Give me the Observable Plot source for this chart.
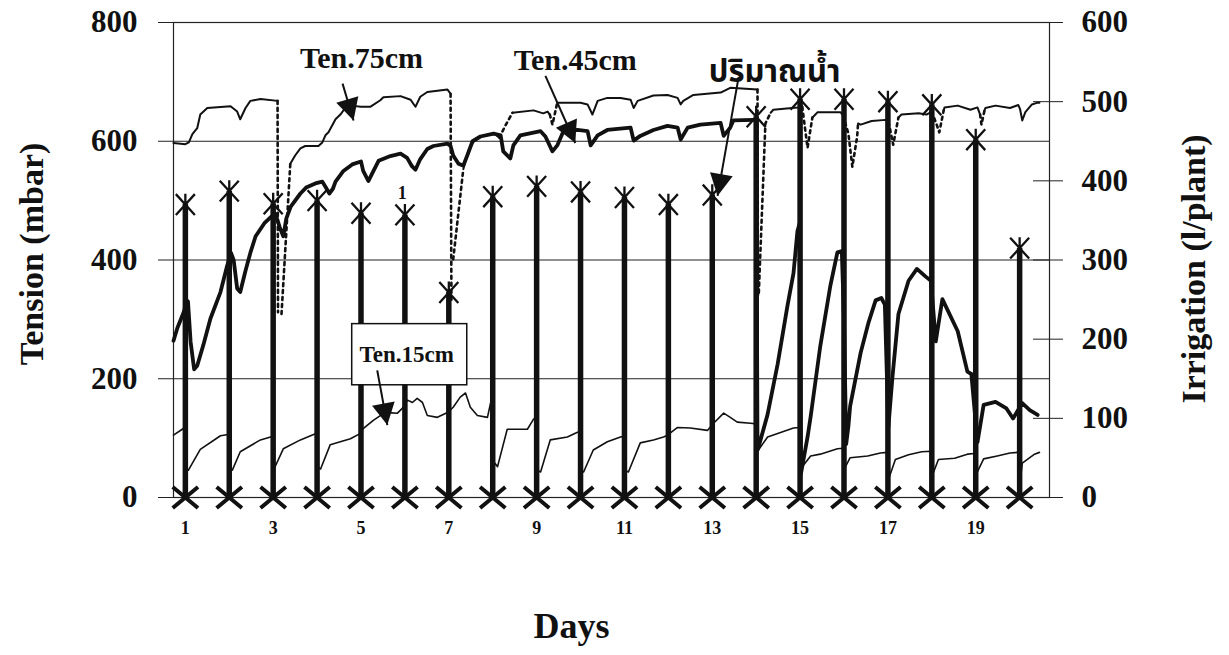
<!DOCTYPE html>
<html>
<head>
<meta charset="utf-8">
<script src="https://cdn.jsdelivr.net/npm/d3@7"></script>
<script src="https://cdn.jsdelivr.net/npm/@observablehq/plot@0.6"></script>
<style>
  html, body { margin: 0; padding: 0; background: #fff; }
</style>
</head>
<body>
<div id="chart"></div>
<script>
// Irrigation events (one per day) in l/plant, read on the right axis
const irrigationDays = d3.range(1, 21);
const irrigation = [370, 387, 371, 375, 359, 357, 259, 380, 393, 386, 379, 370, 382, 481, 503, 503, 500, 496, 452, 315];

// Soil water tension (mbar) at 15 cm depth: [day, tension]
const ten15 = [
  [0.73,105],[0.93,115],[0.99,118],[1.03,48],[1.07,46],[1.34,81],[1.8,104],[1.98,106],
  [2.03,46],[2.07,46],[2.25,77],[2.71,97],[2.94,102],[2.99,103],[3.02,48],[3.23,82],
  [3.62,97],[3.92,106],[3.98,108],[4.03,50],[4.08,48],[4.3,89],[4.76,99],[4.99,108],
  [5.05,116],[5.28,130],[5.44,138],[5.62,143],[5.83,142],[5.94,150],[6.06,164],[6.17,160],
  [6.28,167],[6.4,160],[6.51,138],[6.74,135],[6.97,143],[7.1,152],[7.26,169],[7.38,176],
  [7.49,152],[7.65,138],[7.88,135],[7.95,159],[8.02,60],[8.11,52],[8.33,115],[8.79,115],
  [8.93,132],[8.98,133],[9.03,45],[9.09,43],[9.31,97],[9.7,102],[9.93,110],[9.98,110],
  [10.03,45],[10.07,43],[10.29,80],[10.61,94],[10.91,102],[10.98,103],[11.03,45],[11.09,43],
  [11.36,92],[11.66,97],[11.89,102],[11.98,105],[12.21,118],[12.5,117],[12.89,113],[13.03,125],
  [13.26,142],[13.41,135],[13.57,127],[13.87,125],[14.0,124],[14.05,80],[14.26,102],[14.85,117],
  [14.98,118],[15.01,48],[15.24,70],[15.46,73],[15.85,82],[15.98,83],[16.02,50],[16.14,67],
  [16.54,70],[16.83,75],[16.98,76],[17.01,30],[17.17,64],[17.47,72],[17.77,77],[17.98,78],
  [18.0,35],[18.15,64],[18.52,66],[18.81,73],[18.97,74],[18.99,36],[19.18,65],[19.49,70],
  [19.78,75],[19.98,76],[20.02,32],[20.06,58],[20.34,73],[20.45,76]
];

// Tension at 45 cm depth
const ten45 = [
  [0.73,264],[0.82,286],[0.93,306],[0.98,316],[1.02,333],[1.06,330],[1.12,262],[1.2,216],
  [1.27,222],[1.41,257],[1.57,301],[1.8,346],[1.95,390],[2.04,412],[2.1,400],[2.18,352],
  [2.25,346],[2.37,382],[2.48,412],[2.6,440],[2.8,462],[3.0,476],[3.05,478],[3.15,455],
  [3.23,440],[3.3,470],[3.4,490],[3.62,512],[3.75,522],[3.96,529],[4.12,532],[4.2,522],
  [4.28,512],[4.36,520],[4.42,532],[4.6,550],[4.8,561],[5.0,566],[5.05,550],[5.17,533],
  [5.25,545],[5.4,567],[5.67,575],[5.9,579],[6.05,572],[6.16,558],[6.24,552],[6.35,570],
  [6.51,587],[6.65,592],[6.97,596],[7.04,592],[7.1,576],[7.22,562],[7.33,559],[7.42,576],
  [7.54,600],[7.72,608],[8.02,613],[8.18,610],[8.24,583],[8.4,571],[8.47,593],[8.63,610],
  [9.09,617],[9.2,608],[9.36,583],[9.47,593],[9.61,617],[9.93,619],[10.16,617],[10.23,593],
  [10.39,610],[10.61,619],[11.14,623],[11.21,601],[11.36,609],[11.66,619],[11.98,626],[12.21,623],
  [12.28,603],[12.44,623],[12.73,628],[13.19,631],[13.26,609],[13.41,623],[13.48,635],[13.94,636],
  [14.0,636],[14.03,80],[14.05,84],[14.26,140],[14.49,225],[14.71,322],[14.85,378],[14.94,449],
  [14.99,462],[15.02,40],[15.17,102],[15.24,136],[15.46,255],[15.69,357],[15.85,413],[15.95,415],
  [16.0,300],[16.05,90],[16.1,120],[16.14,154],[16.38,244],[16.56,295],[16.72,332],[16.85,336],
  [16.93,325],[17.01,118],[17.1,200],[17.24,309],[17.47,365],[17.66,385],[17.86,372],[17.98,365],
  [18.09,263],[18.24,334],[18.59,280],[18.81,212],[18.9,208],[19.04,93],[19.18,156],[19.45,161],
  [19.7,150],[19.85,133],[20.06,159],[20.23,147],[20.41,139]
];

// Tension at 75 cm depth: logged stretches (null separates them)
const ten75 = [
  [0.73,597],[1.0,595],[1.08,598],[1.16,612],[1.27,622],[1.34,645],[1.5,656],[2.03,659],
  [2.18,650],[2.25,637],[2.37,656],[2.48,668],[2.71,671],[3.1,668], null,
  [3.39,562],[3.5,576],[3.62,588],[3.73,592],[4.03,592],[4.12,598],[4.19,610],[4.26,615],
  [4.42,637],[4.53,645],[4.64,656],[4.76,660],[5.0,658],[5.21,658],[5.44,669],[5.51,674],
  [5.9,676],[6.13,670],[6.24,658],[6.35,675],[6.51,683],[6.97,687],[7.04,680], null,
  [7.33,553],[7.45,585],[7.6,604],[7.8,610],[8.05,612],[8.15,606], null,
  [8.45,648],[8.93,652],[9.15,647],[9.25,650],[9.3,645], null,
  [9.47,665],[10.0,665],[10.16,662],[10.27,645],[10.39,668],[10.61,673],[10.91,673],[11.14,670],
  [11.21,656],[11.3,668],[11.66,677],[11.98,678],[12.21,673],[12.28,662],[12.34,668],[12.57,678],
  [13.19,682],[13.41,690],[14.03,687], null,
  [14.33,648],[14.39,653],[14.94,657],[15.05,658], null,
  [15.28,640],[15.31,642],[15.4,649],[15.92,649],[15.98,643], null,
  [16.32,630],[16.38,628],[16.63,634],[16.95,636],[17.01,632], null,
  [17.24,640],[17.31,645],[17.7,647],[17.88,645],[18.0,650], null,
  [18.27,652],[18.29,657],[18.59,660],[18.88,653],[19.04,657],[19.1,645], null,
  [19.2,652],[19.22,656],[19.45,660],[19.78,656],[19.97,661],[20.01,654],[20.06,635],[20.13,649],
  [20.28,662],[20.41,665],[20.45,665]
];

// Sparse 75 cm readings around irrigations, drawn dotted
const ten75Gaps = [
  [[3.1,668],[3.11,312]],
  [[3.19,309],[3.39,562]],
  [[7.04,680],[7.06,333]],
  [[7.1,401],[7.33,553]],
  [[8.15,606],[8.3,628],[8.45,648]],
  [[9.3,645],[9.36,628],[9.47,665]],
  [[14.03,687],[14.04,340]],
  [[14.06,345],[14.21,630],[14.33,648]],
  [[15.05,658],[15.08,640],[15.17,589],[15.28,640]],
  [[15.98,643],[16.1,613],[16.19,557],[16.3,608],[16.32,630]],
  [[17.01,632],[17.05,620],[17.12,594],[17.24,640]],
  [[18.0,650],[18.11,628],[18.17,615],[18.27,652]],
  [[19.1,645],[19.13,628],[19.2,652]]
];

// Axis ticks
const dayTicks = [1, 3, 5, 7, 9, 11, 13, 15, 17, 19];
const tensionTicks = [0, 200, 400, 600, 800];
const irrigationTicks = [0, 100, 200, 300, 400, 500, 600];

// Labels and pointers
const seriesLabels = [
  {label: "Ten.75cm", day: 5.01, t: 740, size: 30},
  {label: "Ten.45cm", day: 9.88, t: 736, size: 30},
  {label: "ปริมาณน้ำ", day: 14.42, t: 716, size: 31},
  {label: "Ten.15cm", day: 6.04, t: 240, size: 23},
  {label: "1", day: 5.94, t: 513, size: 18}
];
const labelBox = [{day1: 4.80, day2: 7.42, t1: 189, t2: 292}];
const pointers = [
  {day1: 4.58, t1: 697, day2: 4.83, t2: 635},
  {day1: 9.20, t1: 710, day2: 9.88, t2: 597},
  {day1: 13.60, t1: 708, day2: 13.12, t2: 508},
  {day1: 5.37, t1: 214, day2: 5.60, t2: 122}
];

// ---- layout ----
const W = 1229, H = 655;
const mL = 173, mR = 180, mT = 22, mB = 158;
const xDomain = [0.73, 20.68];
const yDomain = [0, 800];
const irrToTension = 800 / 600;   // right axis 0–600 spans the same height as 0–800
const plotW = W - mL - mR, plotH = H - mT - mB;
const pxPerDay = plotW / (xDomain[1] - xDomain[0]);
const pxPerMbar = plotH / (yDomain[1] - yDomain[0]);

const toRows = (arr) => arr.map(p => p ? {day: p[0], t: p[1]} : {day: NaN, t: NaN});
const rows15 = toRows(ten15);
const rows45 = toRows(ten45);
const rows75 = toRows(ten75);
const rows75gaps = ten75Gaps.flatMap((seg, i) => seg.map(p => ({day: p[0], t: p[1], seg: i})));
const stems = irrigationDays.map((d, i) => ({day: d, irr: irrigation[i], t: irrigation[i] * irrToTension}));

// pointer heads: screen angle of each pointer
const heads = pointers.map(p => {
  const dx = (p.day2 - p.day1) * pxPerDay;
  const dy = -(p.t2 - p.t1) * pxPerMbar;
  return {...p, angle: Math.atan2(dy, dx) * 180 / Math.PI + 90};
});

// X marker with an upward spoke (top of each irrigation bar)
const starX = {
  draw(ctx, size) {
    const r = Math.sqrt(size / Math.PI);
    ctx.moveTo(-r, -r * 1.1); ctx.lineTo(r, r * 1.1);
    ctx.moveTo(-r, r * 1.1); ctx.lineTo(r, -r * 1.1);
    ctx.moveTo(0, -r * 1.15); ctx.lineTo(0, r);
  }
};
// flat X for the foot of each bar
const footX = {
  draw(ctx, size) {
    const r = Math.sqrt(size / Math.PI);
    ctx.moveTo(-r * 1.15, -r * 0.95); ctx.lineTo(r * 1.15, r * 0.95);
    ctx.moveTo(-r * 1.15, r * 0.95); ctx.lineTo(r * 1.15, -r * 0.95);
  }
};
// filled arrowhead, tip at the origin, pointing up
const headSym = {
  draw(ctx, size) {
    const r = Math.sqrt(size / Math.PI);
    ctx.moveTo(0, 0); ctx.lineTo(-r, 1.9 * r); ctx.lineTo(r, 1.9 * r); ctx.closePath();
  }
};

const serif = '"Liberation Serif", "Times New Roman", "DejaVu Serif", serif';
const ink = "#111";

const chart = Plot.plot({
  width: W, height: H,
  marginLeft: mL, marginRight: mR, marginTop: mT, marginBottom: mB,
  x: {domain: xDomain},
  y: {domain: yDomain},
  style: {fontFamily: serif, background: "#fff", color: ink},
  marks: [
    // horizontal grid
    Plot.ruleY([200, 400, 600], {stroke: "#222", strokeWidth: 1}),
    Plot.frame({stroke: "#222", strokeWidth: 1.2}),

    // left axis (tension)
    Plot.axisY(tensionTicks, {tickSize: 15, tickPadding: 21, fontSize: 31, fontWeight: "bold", label: null, stroke: "#222"}),
    // right axis (irrigation)
    Plot.ruleY(irrigationTicks, {y: d => d * irrToTension, insetLeft: plotW - 16, insetRight: -14, stroke: "#222", strokeWidth: 1}),
    Plot.text(irrigationTicks, {y: d => d * irrToTension, text: d => String(d), frameAnchor: "right", textAnchor: "start", dx: 32, fontSize: 31, fontWeight: "bold", fill: ink}),
    // bottom axis (days)
    Plot.axisX(dayTicks, {tickSize: 0, tickPadding: 24, fontSize: 18, fontWeight: "bold", label: null}),

    // axis titles
    Plot.text(["Tension (mbar)"], {frameAnchor: "left", textAnchor: "middle", rotate: -90, dx: -141, dy: -6, fontSize: 34, fontWeight: "bold", fill: ink}),
    Plot.text(["Irrigation (l/plant)"], {frameAnchor: "right", textAnchor: "middle", rotate: -90, dx: 145, dy: 9, fontSize: 34, fontWeight: "bold", fill: ink}),
    Plot.text(["Days"], {frameAnchor: "bottom", dx: -40, dy: 140, fontSize: 36, fontWeight: "bold", fill: ink}),

    // tension series
    Plot.line(rows15, {x: "day", y: "t", stroke: ink, strokeWidth: 1.6}),
    Plot.line(rows75, {x: "day", y: "t", stroke: ink, strokeWidth: 2}),
    Plot.line(rows75gaps, {x: "day", y: "t", z: "seg", stroke: ink, strokeWidth: 2.6, strokeDasharray: "3,4"}),
    Plot.line(rows45, {x: "day", y: "t", stroke: ink, strokeWidth: 3.8}),

    // irrigation bars
    Plot.ruleX(stems, {x: "day", y1: 0, y2: "t", stroke: ink, strokeWidth: 5.5}),
    Plot.dot(stems, {x: "day", y: "t", symbol: starX, r: 9.5, stroke: ink, strokeWidth: 2.3, fill: "none"}),
    Plot.dot(stems, {x: "day", y: () => 0, symbol: footX, r: 11, stroke: ink, strokeWidth: 4, fill: "none"}),

    // label box for the 15 cm series
    Plot.rect(labelBox, {x1: "day1", x2: "day2", y1: "t1", y2: "t2", fill: "#fff", stroke: ink, strokeWidth: 1.5}),

    // pointers
    Plot.link(pointers, {x1: "day1", y1: "t1", x2: "day2", y2: "t2", stroke: ink, strokeWidth: 2}),
    Plot.dot(heads, {x: "day2", y: "t2", symbol: headSym, r: 11.5, rotate: "angle", fill: ink, stroke: "none"}),

    // series labels
    Plot.text(seriesLabels, {x: "day", y: "t", text: "label", fontSize: "size", fontWeight: "bold", fill: ink,
      fontFamily: '"Liberation Serif", "Times New Roman", "Noto Sans Thai", "Loma", "Garuda", "Norasi", "DejaVu Sans", serif'})
  ]
});

document.getElementById("chart").appendChild(chart);
</script>
</body>
</html>
